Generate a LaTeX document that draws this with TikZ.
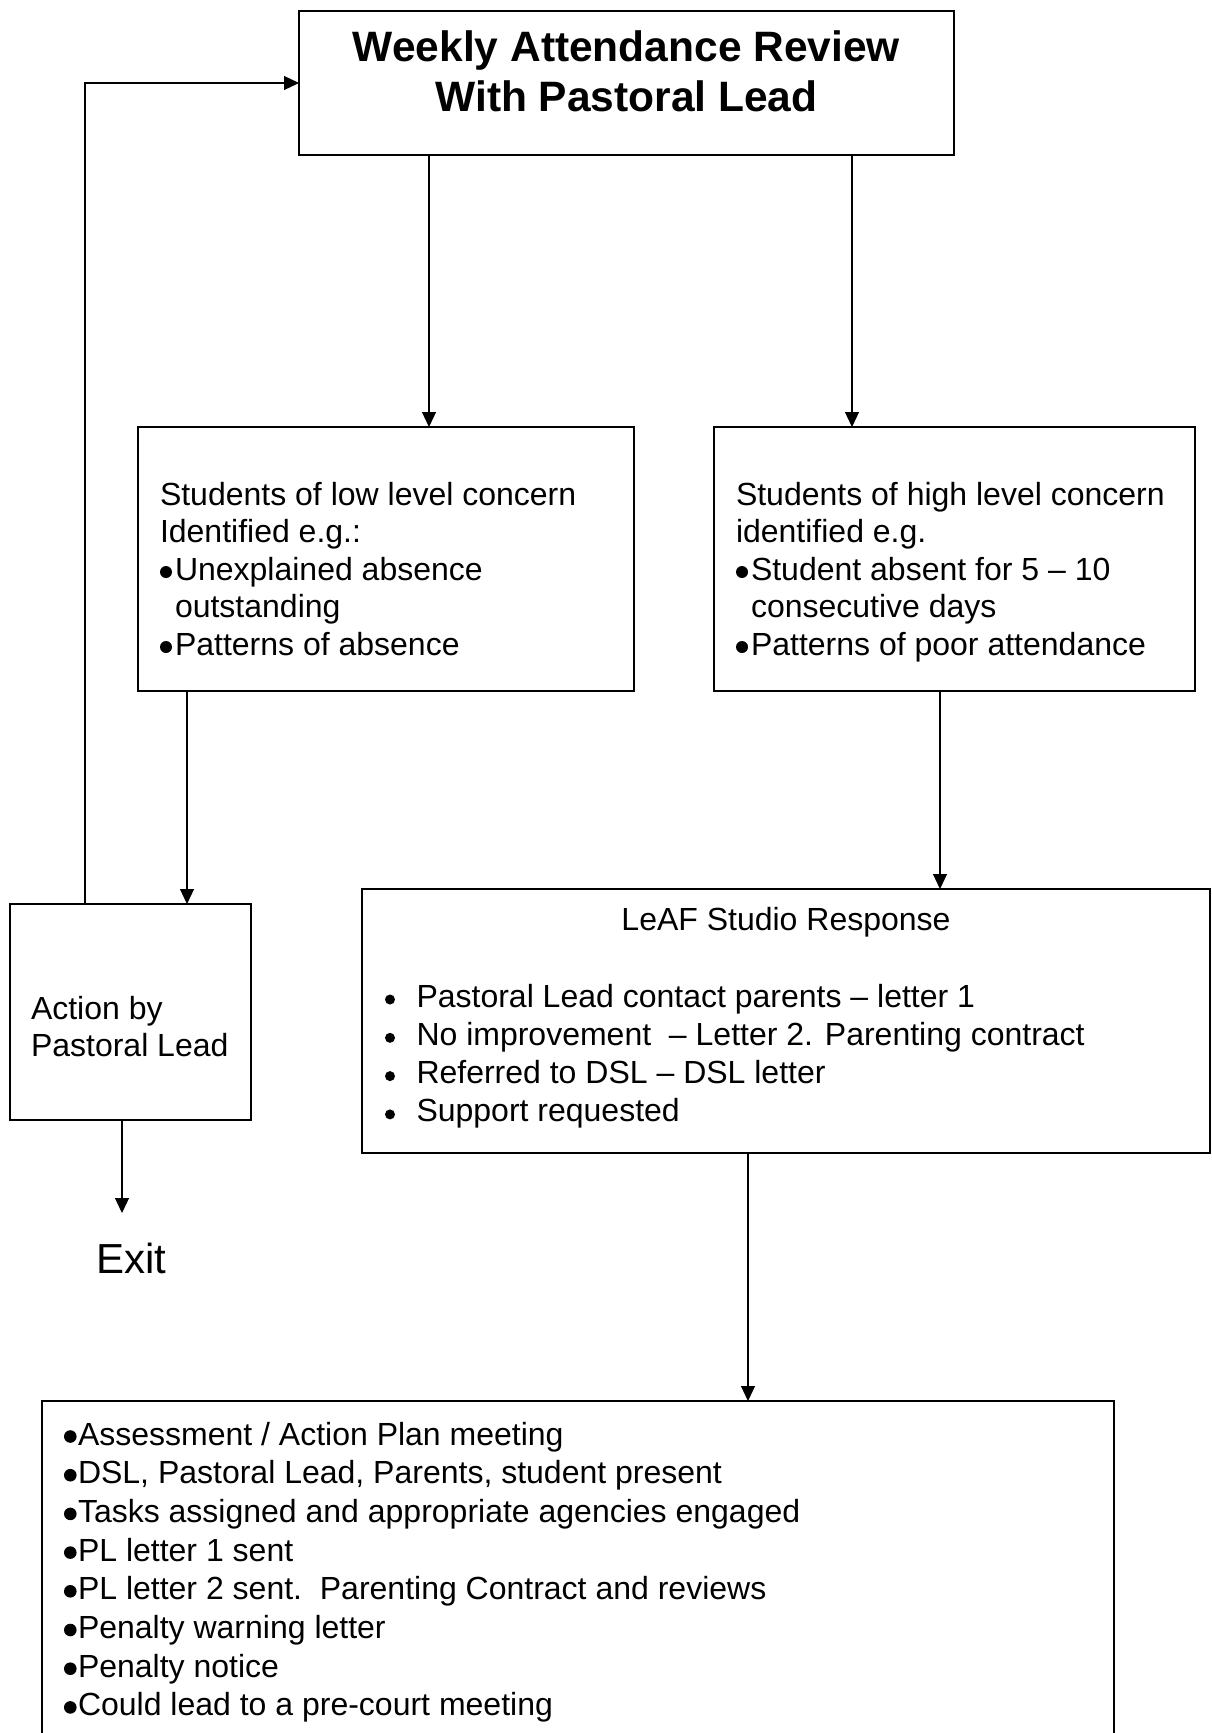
\documentclass[tikz,border=0pt]{standalone}
\usepackage{fontspec}
\setmainfont{Liberation Sans}
\usetikzlibrary{arrows.meta}
% round bullet: #1 advance, #2 radius, #3 height of centre above baseline
\newcommand\bdot[3]{\begin{pgfpicture}\pgfsetbaseline{0pt}%
  \pgfpathrectangle{\pgfpointorigin}{\pgfpoint{#1}{0.1pt}}\pgfusepath{use as bounding box}%
  \pgfpathcircle{\pgfpoint{#2}{#3}}{#2}\pgfusepath{fill}\end{pgfpicture}}
\newcommand\bsmall{\bdot{15pt}{6pt}{8pt}}
\newcommand\bbig{\bdot{14pt}{6.3pt}{8.5pt}}
\newcommand\bleaf{\bdot{31.5pt}{5pt}{7.5pt}}
\begin{document}
\begin{tikzpicture}[x=1pt,y=-1pt,
  box/.style={draw, line width=1.5pt, inner sep=0pt, outer sep=0pt, anchor=north west},
  txt/.style={inner sep=0pt, outer sep=0pt, anchor=north west, align=left},
  arr/.style={line width=1.2pt, -{Triangle[length=15pt,width=14pt]}}]
\useasboundingbox (0,0) rectangle (1211,1733);
\fill[white] (0,0) rectangle (1211,1733);
\clip (0,0) rectangle (1211,1733);

% boxes
\node[box, minimum width=655pt, minimum height=144pt] (top) at (299,11) {};
\node[box, minimum width=496pt, minimum height=264pt] (low) at (138,427) {};
\node[box, minimum width=481pt, minimum height=264pt] (high) at (714,427) {};
\node[box, minimum width=241pt, minimum height=216pt] (action) at (10,904) {};
\node[box, minimum width=848pt, minimum height=264pt] (leaf) at (362,889) {};
\node[box, minimum width=1072pt, minimum height=380pt] (bottom) at (42,1401) {};

% texts
\node[inner sep=0pt, anchor=north, align=center, font=\fontsize{42.5}{50}\selectfont\bfseries] (title) at (626.5,26)
  {\strut Weekly Attendance Review\\With Pastoral Lead};

\node[txt, font=\fontsize{32}{37.5}\selectfont] (lowtxt) at (160,478.75)
  {\strut Students of low level concern\\
   Identified e.g.:\\
   \bsmall Unexplained absence\\
   \hspace*{15pt}outstanding\\
   \bsmall Patterns of absence};

\node[txt, font=\fontsize{32}{37.5}\selectfont] (hightxt) at (736,478.75)
  {\strut Students of high level concern\\
   identified e.g.\\
   \bsmall Student absent for 5 – 10\\
   \hspace*{15pt}consecutive days\\
   \bsmall Patterns of poor attendance};

\node[inner sep=0pt, anchor=base, font=\fontsize{32}{37.5}\selectfont] (leaftitle) at (786,930) {LeAF Studio Response};

\node[txt, font=\fontsize{32}{38.3}\selectfont] (leaftxt) at (385,980.2)
  {\strut\bleaf Pastoral Lead contact parents – letter 1\\
   \bleaf No improvement \ – Letter 2. Parenting contract\\
   \bleaf Referred to DSL – DSL letter\\
   \bleaf Support requested};

\node[txt, font=\fontsize{32}{37}\selectfont] (actiontxt) at (31,993.1)
  {\strut Action by\\Pastoral Lead};

\node[inner sep=0pt, anchor=base west, font=\fontsize{42}{50}\selectfont] (exit) at (96,1273) {Exit};

\node[txt, font=\fontsize{32}{38.7}\selectfont] (bottxt) at (64,1417.9)
  {\strut\bbig Assessment / Action Plan meeting\\
   \bbig DSL, Pastoral Lead, Parents, student present\\
   \bbig Tasks assigned and appropriate agencies engaged\\
   \bbig PL letter 1 sent\\
   \bbig PL letter 2 sent.\ \ Parenting Contract and reviews\\
   \bbig Penalty warning letter\\
   \bbig Penalty notice\\
   \bbig Could lead to a pre-court meeting};

% connectors
\coordinate (c1) at (429,0);
\coordinate (c2) at (852,0);
\coordinate (c3) at (187,0);
\coordinate (c4) at (940,0);
\coordinate (c5) at (748,0);
\coordinate (fb) at (85,0);
\coordinate (exitend) at (122,1213);

\draw[arr] (c1 |- top.south) -- (c1 |- low.north);
\draw[arr] (c2 |- top.south) -- (c2 |- high.north);
\draw[arr] (c3 |- low.south) -- (c3 |- action.north);
\draw[arr] (c4 |- high.south) -- (c4 |- leaf.north);
\draw[arr] (c5 |- leaf.south) -- (c5 |- bottom.north);
\draw[arr] (fb |- action.north) |- (top.west);
\draw[arr] (exitend |- action.south) -- (exitend);
\end{tikzpicture}
\end{document}
